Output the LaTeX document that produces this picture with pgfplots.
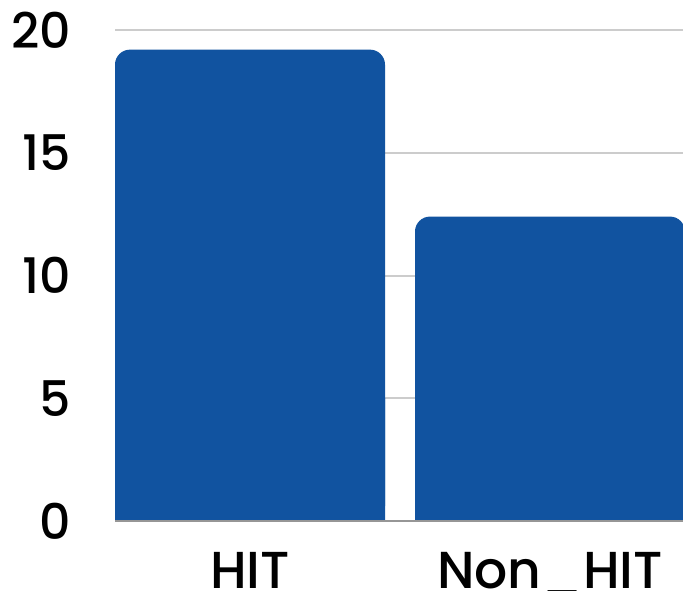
\documentclass[border=0pt]{standalone}
\usepackage{fontspec}
\setmainfont{Poppins}[UprightFont={* Medium}]
\usepackage{pgfplots}
\pgfplotsset{compat=1.18}
\usepackage{pgfplotstable}
\definecolor{barblue}{RGB}{17,83,160}
\definecolor{gridgray}{RGB}{204,204,204}
\definecolor{basegray}{RGB}{150,150,150}
\pgfplotstableread{
x y
0 19.2
1 12.4
}\datatable
\begin{document}
\begin{tikzpicture}
\useasboundingbox (0pt,0pt) rectangle (683pt,590pt);
% main axis: grid, labels, rounded bars
\begin{axis}[
  at={(250pt,69pt)}, anchor=origin,
  x=300pt, y=24.55pt,
  xmin=-0.45, xmax=1.45, ymin=0, ymax=21.2,
  axis line style={draw=none},
  major tick length=0pt,
  ymajorgrids, grid style={gridgray, line width=2pt},
  ytick={0,5,10,15,20},
  xtick={0,1}, xticklabels={HIT, Non\_HIT},
  /pgf/number format/assume math mode=true,
  yticklabel style={font=\fontsize{49}{53}\selectfont, inner sep=0pt, anchor=east, xshift=-44pt},
  xticklabel style={font=\fontsize{52}{56}\selectfont, inner sep=0pt, anchor=north, yshift=-31pt},
  ybar, bar width=270pt, bar shift=0pt,
  clip=true,
]
\addplot[fill=barblue, draw=none, rounded corners=15pt] table[x=x,y=y] {\datatable};
\end{axis}
% helper axis with same scale: square bar bottoms and baseline
\begin{axis}[
  at={(250pt,69pt)}, anchor=origin,
  x=300pt, y=24.55pt,
  xmin=-0.45, xmax=1.45, ymin=0, ymax=5,
  hide y axis,
  axis x line*=bottom,
  x axis line style={basegray, line width=2pt, -},
  xtick=\empty, ytick=\empty,
  axis on top,
  ybar, bar width=270pt, bar shift=0pt,
]
\addplot[fill=barblue, draw=none] table[x=x,y=y] {\datatable};
\end{axis}
\end{tikzpicture}
\end{document}
